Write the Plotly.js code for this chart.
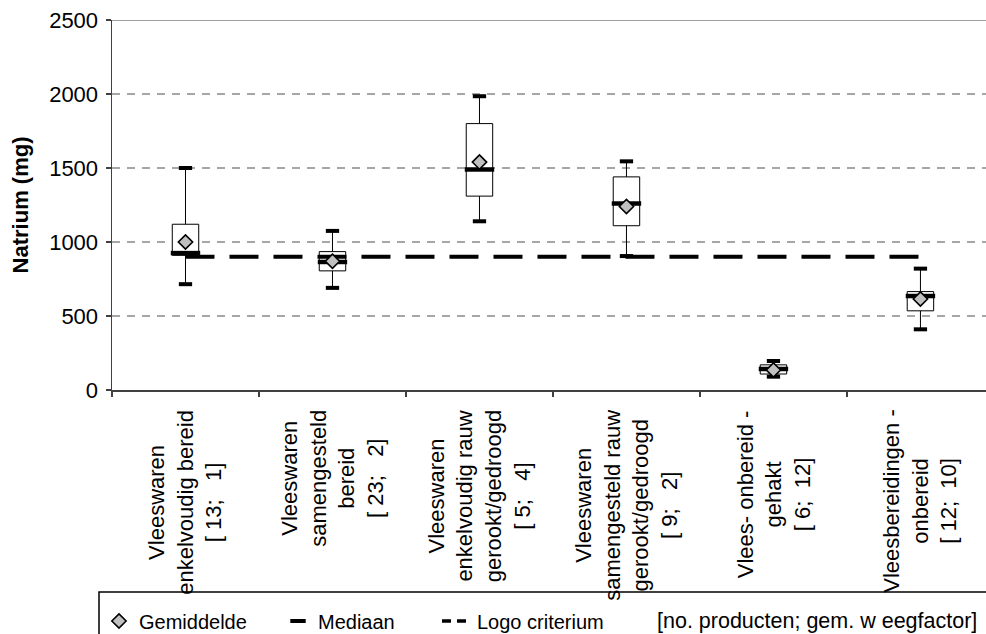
<!DOCTYPE html>
<html>
<head>
<meta charset="utf-8">
<script src="https://cdn.plot.ly/plotly-3.0.1.min.js"></script>
<style>
html,body{margin:0;padding:0;background:#fff;overflow:hidden;}
#chart{width:986px;height:650px;}
</style>
</head>
<body>
<div id="chart"></div>
<script>
// ---- data ----
var categories = [
  'Vleeswaren<br>enkelvoudig bereid<br>[ 13;\u00a0\u00a0 1]',
  'Vleeswaren<br>samengesteld<br>bereid<br>[ 23;\u00a0\u00a0 2]',
  'Vleeswaren<br>enkelvoudig rauw<br>gerookt/gedroogd<br>[ 5;\u00a0\u00a0 4]',
  'Vleeswaren<br>samengesteld rauw<br>gerookt/gedroogd<br>[ 9;\u00a0\u00a0 2]',
  'Vlees- onbereid -<br>gehakt<br>[ 6;\u00a0 12]',
  'Vleesbereidingen -<br>onbereid<br>[ 12;\u00a0 10]'
];
var upperWhisker = [1500, 1075, 1985, 1545, 196, 820];
var q3Values     = [1120,  935, 1800, 1440, 170, 665];
var medianValues = [ 925,  865, 1490, 1260, 142, 635];
var q1Values     = [ 910,  805, 1310, 1110, 108, 535];
var lowerWhisker = [ 715,  690, 1140,  905,  90, 410];
var meanValues   = [1000,  870, 1540, 1240, 135, 615];
var logoCriterium = [900, 900, 900, 900, 900, 900];
var legendNames = ['Gemiddelde', 'Mediaan', 'Logo criterium'];
var legendNote = '[no. producten; gem. w eegfactor]';
var yTitle = 'Natrium (mg)';

var FONT = 'Arial, "Liberation Sans", sans-serif';
var LEG_Y = (390 - 621) / 370;

var traces = [
  {
    type: 'box', x: categories,
    q1: q1Values, median: medianValues, q3: q3Values,
    lowerfence: lowerWhisker, upperfence: upperWhisker,
    width: 0.18, whiskerwidth: 0,
    fillcolor: '#ffffff', line: {color: '#000000', width: 1},
    showlegend: false, hoverinfo: 'skip'
  },
  {
    type: 'scatter', mode: 'lines', x: categories, y: logoCriterium,
    line: {color: '#000000', width: 4, dash: '29px,15px'},
    showlegend: false, hoverinfo: 'skip'
  },
  {
    type: 'scatter', mode: 'markers', x: categories.concat(categories),
    y: upperWhisker.concat(lowerWhisker),
    marker: {symbol: 'line-ew', size: 9.5, line: {color: '#000000', width: 4}},
    showlegend: false, hoverinfo: 'skip'
  },
  {
    type: 'scatter', mode: 'markers', x: categories, y: medianValues,
    marker: {symbol: 'line-ew', size: 21, color: '#000000', line: {color: '#000000', width: 4.5}},
    showlegend: false, hoverinfo: 'skip'
  },
  {
    type: 'scatter', mode: 'markers', x: categories, y: meanValues,
    name: legendNames[0], legend: 'legend',
    marker: {symbol: 'diamond', size: 11, color: '#c0c0c0', line: {color: '#000000', width: 1.6}},
    hoverinfo: 'skip'
  },
  {
    type: 'scatter', mode: 'markers', x: [null], y: [null],
    name: legendNames[1], legend: 'legend2',
    marker: {symbol: 'line-ew', size: 11, color: '#000000', line: {color: '#000000', width: 4}},
    hoverinfo: 'skip'
  },
  {
    type: 'scatter', mode: 'lines', x: [null], y: [null],
    name: legendNames[2], legend: 'legend3',
    line: {color: '#000000', width: 3.5, dash: '9px,6px'},
    hoverinfo: 'skip'
  }
];

var annotations = categories.map(function (c, i) {
  return {
    x: i, xref: 'x', y: -0.048, yref: 'paper',
    text: c, textangle: -90, showarrow: false,
    xanchor: 'center', yanchor: 'top', align: 'center',
    font: {family: FONT, size: 22, color: '#000000'}
  };
});
annotations.push({
  x: (655 - 112) / 874, xref: 'paper', y: LEG_Y, yref: 'paper',
  text: legendNote, showarrow: false, xanchor: 'left', yanchor: 'middle',
  font: {family: FONT, size: 21.5, color: '#000000'}
});

function legendAt(px) {
  return {
    x: (px - 112) / 874, xanchor: 'left',
    y: LEG_Y, yanchor: 'middle',
    orientation: 'h', bgcolor: 'rgba(0,0,0,0)', borderwidth: 0,
    font: {family: FONT, size: 20, color: '#000000'},
    itemsizing: 'trace'
  };
}

var layout = {
  width: 986, height: 650,
  margin: {l: 112, r: 0, t: 20, b: 260},
  paper_bgcolor: '#ffffff', plot_bgcolor: '#ffffff',
  font: {family: FONT, size: 20, color: '#000000'},
  showlegend: true,
  legend: legendAt(99),
  legend2: legendAt(278),
  legend3: legendAt(437),
  xaxis: {
    type: 'category', range: [-0.5, 5.446], tickson: 'boundaries',
    ticks: 'outside', ticklen: 5, tickwidth: 1.5, tickcolor: '#404040',
    showticklabels: false, showline: true, linecolor: '#404040', linewidth: 1.5,
    showgrid: false, zeroline: false, fixedrange: true
  },
  yaxis: {
    range: [0, 2500], tick0: 0, dtick: 500,
    ticks: 'outside', ticklen: 5, tickwidth: 1.5, tickcolor: '#404040',
    showline: true, linecolor: '#404040', linewidth: 1.5,
    showgrid: true, gridcolor: '#a6a6a6', gridwidth: 1.3, griddash: '8px,7px',
    zeroline: false, fixedrange: true, ticklabelstandoff: 3,
    tickfont: {family: FONT, size: 22, color: '#000000'},
    title: {text: '<b>' + yTitle + '</b>', font: {family: FONT, size: 22, color: '#000000'}, standoff: 14}
  },
  shapes: [
    {type: 'line', xref: 'paper', yref: 'y', x0: 0, x1: 1, y0: 2500, y1: 2500,
     line: {color: '#808080', width: 1.5}},
    {type: 'rect', xref: 'paper', yref: 'paper', x0: (99 - 112) / 874, x1: 1.05,
     y0: (390 - 592) / 370, y1: -0.75, line: {color: '#000000', width: 1.5}}
  ],
  annotations: annotations
};

Plotly.newPlot('chart', traces, layout, {staticPlot: true, displayModeBar: false});
</script>
</body>
</html>
